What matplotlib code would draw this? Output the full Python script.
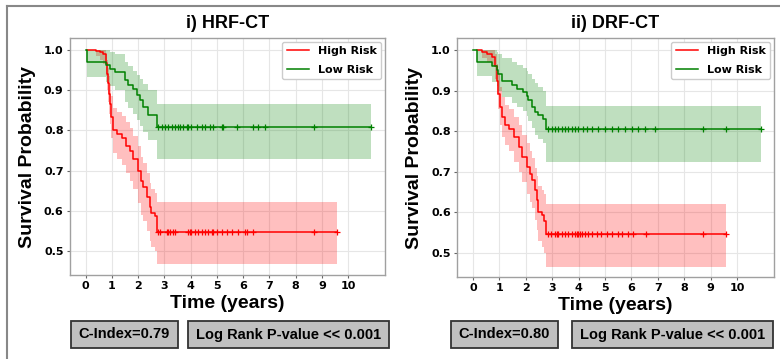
import numpy as np
import matplotlib
matplotlib.use('Agg')
import matplotlib.pyplot as plt
from matplotlib.patches import Rectangle
from matplotlib.lines import Line2D

plt.rcParams['font.family'] = ['DejaVu Sans']
plt.rcParams['font.weight'] = 'bold'

# --- i) HRF-CT ---
hrf_high_t = [0.06, 0.41, 0.53, 0.66, 0.76, 0.79, 0.81, 0.85, 0.88, 0.92, 0.98, 1.04, 1.2,
              1.4, 1.55, 1.7, 1.8, 2.0, 2.12, 2.2, 2.35, 2.44, 2.5, 2.63, 2.72]
hrf_high_s = [1.0, 0.998, 0.995, 0.99, 0.983, 0.967, 0.94, 0.917, 0.89, 0.867, 0.833, 0.80, 0.79,
              0.78, 0.762, 0.748, 0.728, 0.70, 0.675, 0.658, 0.635, 0.61, 0.595, 0.586, 0.547]
hrf_high_hi = [1.0, 1.0, 1.0, 1.0, 1.0, 0.99, 0.975, 0.955, 0.935, 0.915, 0.885, 0.855, 0.845,
               0.835, 0.82, 0.805, 0.785, 0.76, 0.735, 0.72, 0.695, 0.67, 0.655, 0.645, 0.622]
hrf_high_lo = [1.0, 0.985, 0.975, 0.965, 0.955, 0.935, 0.9, 0.87, 0.84, 0.815, 0.78, 0.745, 0.73,
               0.715, 0.695, 0.675, 0.655, 0.62, 0.59, 0.575, 0.55, 0.525, 0.51, 0.5, 0.467]
hrf_high_end = 9.58
hrf_high_cens = [2.76, 2.82, 3.08, 3.14, 3.21, 3.33, 3.40, 3.91, 3.97, 4.03, 4.16, 4.29, 4.42,
                 4.54, 4.67, 4.80, 4.86, 4.99, 5.18, 5.37, 5.56, 5.82, 6.07, 6.13, 6.39, 8.68, 9.57]

hrf_low_t = [0.0, 0.05, 0.79, 0.92, 1.11, 1.49, 1.62, 1.81, 1.94, 2.06, 2.19, 2.38, 2.70]
hrf_low_s = [1.0, 0.971, 0.962, 0.954, 0.946, 0.925, 0.913, 0.904, 0.888, 0.875, 0.858, 0.838, 0.808]
hrf_low_hi = [1.0, 1.0, 1.0, 0.995, 0.99, 0.97, 0.96, 0.948, 0.938, 0.928, 0.915, 0.9, 0.867]
hrf_low_lo = [1.0, 0.933, 0.92, 0.91, 0.9, 0.87, 0.855, 0.84, 0.825, 0.81, 0.795, 0.775, 0.729]
hrf_low_end = 10.88
hrf_low_cens = [2.76, 2.89, 3.02, 3.14, 3.27, 3.40, 3.53, 3.59, 3.72, 3.84, 3.91, 4.03, 4.23,
                4.42, 4.54, 4.73, 4.86, 5.18, 5.24, 5.75, 6.39, 6.58, 6.83, 8.68, 10.88]

# --- ii) DRF-CT ---
drf_high_t = [0.15, 0.34, 0.53, 0.72, 0.84, 0.91, 0.94, 1.03, 1.12, 1.22, 1.35, 1.54, 1.73,
              1.85, 2.04, 2.17, 2.23, 2.36, 2.42, 2.48, 2.61, 2.71, 2.77]
drf_high_s = [1.0, 0.995, 0.99, 0.983, 0.96, 0.925, 0.893, 0.86, 0.835, 0.815, 0.806, 0.786, 0.761,
              0.737, 0.712, 0.695, 0.679, 0.654, 0.629, 0.60, 0.592, 0.579, 0.547]
drf_high_hi = [1.0, 1.0, 1.0, 1.0, 0.99, 0.965, 0.94, 0.91, 0.885, 0.865, 0.855, 0.835, 0.815,
               0.79, 0.77, 0.75, 0.735, 0.71, 0.69, 0.665, 0.655, 0.645, 0.621]
drf_high_lo = [1.0, 0.98, 0.97, 0.96, 0.93, 0.89, 0.855, 0.815, 0.785, 0.765, 0.75, 0.725, 0.7,
               0.675, 0.645, 0.625, 0.61, 0.58, 0.555, 0.53, 0.515, 0.5, 0.465]
drf_high_end = 9.6
drf_high_cens = [2.86, 2.96, 3.11, 3.17, 3.24, 3.36, 3.49, 3.61, 3.74, 3.87, 3.93, 3.99, 4.05,
                 4.12, 4.24, 4.37, 4.5, 4.69, 4.87, 5.06, 5.25, 5.5, 5.63, 5.88, 6.07, 6.57, 8.72, 9.6]

drf_low_t = [0.0, 0.15, 0.72, 0.91, 0.97, 1.10, 1.47, 1.66, 1.91, 2.04, 2.10, 2.23, 2.36, 2.48, 2.67, 2.76]
drf_low_s = [1.0, 0.971, 0.96, 0.952, 0.94, 0.925, 0.913, 0.905, 0.897, 0.888, 0.876, 0.86, 0.848,
             0.84, 0.83, 0.806]
drf_low_hi = [1.0, 1.0, 1.0, 0.995, 0.99, 0.98, 0.97, 0.963, 0.955, 0.948, 0.94, 0.928, 0.918,
              0.91, 0.9, 0.863]
drf_low_lo = [1.0, 0.935, 0.922, 0.912, 0.9, 0.885, 0.87, 0.86, 0.85, 0.838, 0.825, 0.807, 0.79,
              0.78, 0.77, 0.725]
drf_low_end = 10.89
drf_low_cens = [2.86, 2.98, 3.11, 3.24, 3.36, 3.49, 3.61, 3.74, 3.87, 3.99, 4.18, 4.31, 4.5,
                4.75, 5.0, 5.25, 5.5, 5.76, 6.01, 6.26, 6.51, 6.89, 8.72, 9.6, 10.89]

titles = ['i) HRF-CT', 'ii) DRF-CT']
c_index = ['C-Index=0.79', 'C-Index=0.80']
p_text = 'Log Rank P-value << 0.001'
x_ticks = list(range(11))
y_ticks = [0.5, 0.6, 0.7, 0.8, 0.9, 1.0]

RED = '#ff0000'
GREEN = '#008000'
LAB_FONT = ['Liberation Sans', 'DejaVu Sans']


def km(ax, t, s, lo, hi, end, cens, color, label):
    tt = np.append(t, end)
    ss = np.append(s, s[-1])
    ax.fill_between(tt, np.append(lo, lo[-1]), np.append(hi, hi[-1]), step='post',
                    color=color, alpha=0.25, linewidth=0)
    line, = ax.step(tt, ss, where='post', color=color, linewidth=1.1, label=label)
    # censor marks sit on the curve at the censoring times
    idx = np.searchsorted(t, cens, side='right') - 1
    ax.plot(cens, np.array(s)[idx], '+', color=color, markersize=4, markeredgewidth=0.9)
    return line


fig = plt.figure(figsize=(7.8, 3.59), dpi=100)
positions = [[0.0897, 0.234, 0.4038, 0.660], [0.5859, 0.2284, 0.4064, 0.6657]]
panels = [
    (hrf_high_t, hrf_high_s, hrf_high_lo, hrf_high_hi, hrf_high_end, hrf_high_cens,
     hrf_low_t, hrf_low_s, hrf_low_lo, hrf_low_hi, hrf_low_end, hrf_low_cens),
    (drf_high_t, drf_high_s, drf_high_lo, drf_high_hi, drf_high_end, drf_high_cens,
     drf_low_t, drf_low_s, drf_low_lo, drf_low_hi, drf_low_end, drf_low_cens),
]

for i, p in enumerate(panels):
    ax = fig.add_axes(positions[i])
    h = km(ax, *p[0:6], RED, 'High Risk')
    l = km(ax, *p[6:12], GREEN, 'Low Risk')
    ax.set_xlim(-0.6, 11.4)
    ax.set_ylim(0.44, 1.03)
    ax.set_xticks(x_ticks)
    ax.set_yticks(y_ticks)
    ax.set_yticklabels([f'{v:.1f}' for v in y_ticks])
    ax.grid(True, color='#e6e6e6', linewidth=0.8)
    ax.set_axisbelow(True)
    for sp in ax.spines.values():
        sp.set_color('#a0a0a0')
        sp.set_linewidth(1.0)
    ax.tick_params(labelsize=8, length=2.5, width=0.8, color='#666666', pad=2)
    ax.set_title(titles[i], family=LAB_FONT, fontsize=13, fontweight='bold', pad=7)
    ax.set_xlabel('Time (years)', family=LAB_FONT, fontsize=14, fontweight='bold', labelpad=3)
    ax.set_ylabel('Survival Probability', family=LAB_FONT, fontsize=14, fontweight='bold', labelpad=6)
    leg = ax.legend(handles=[h, l], loc='upper right', fontsize=8, borderaxespad=0.35,
                    handlelength=2.0, labelspacing=0.75, framealpha=1)
    leg.get_frame().set_edgecolor('#cccccc')

# stat boxes below the panels
boxes = [(71, 178, c_index[0]), (188, 389, p_text), (451, 558, c_index[1]), (572, 773, p_text)]
for x0, x1, txt in boxes:
    fx, fw = x0 / 780, (x1 - x0) / 780
    fy, fh = 11 / 359, 27 / 359
    fig.patches.append(Rectangle((fx, fy), fw, fh, transform=fig.transFigure,
                                 facecolor='#c0c0c0', edgecolor='#333333', linewidth=1.3))
    fig.text(fx + fw / 2, fy + fh / 2, txt, ha='center', va='center',
             family=LAB_FONT, fontsize=10.5, fontweight='bold')

# outer frame (top and left)
fig.lines.append(Line2D([7 / 780, 1.0], [1 - 6 / 359, 1 - 6 / 359], transform=fig.transFigure,
                        color='#888888', linewidth=1.5))
fig.lines.append(Line2D([7 / 780, 7 / 780], [0.0, 1 - 6 / 359], transform=fig.transFigure,
                        color='#888888', linewidth=1.5))

fig.savefig('out.png', dpi=100)
